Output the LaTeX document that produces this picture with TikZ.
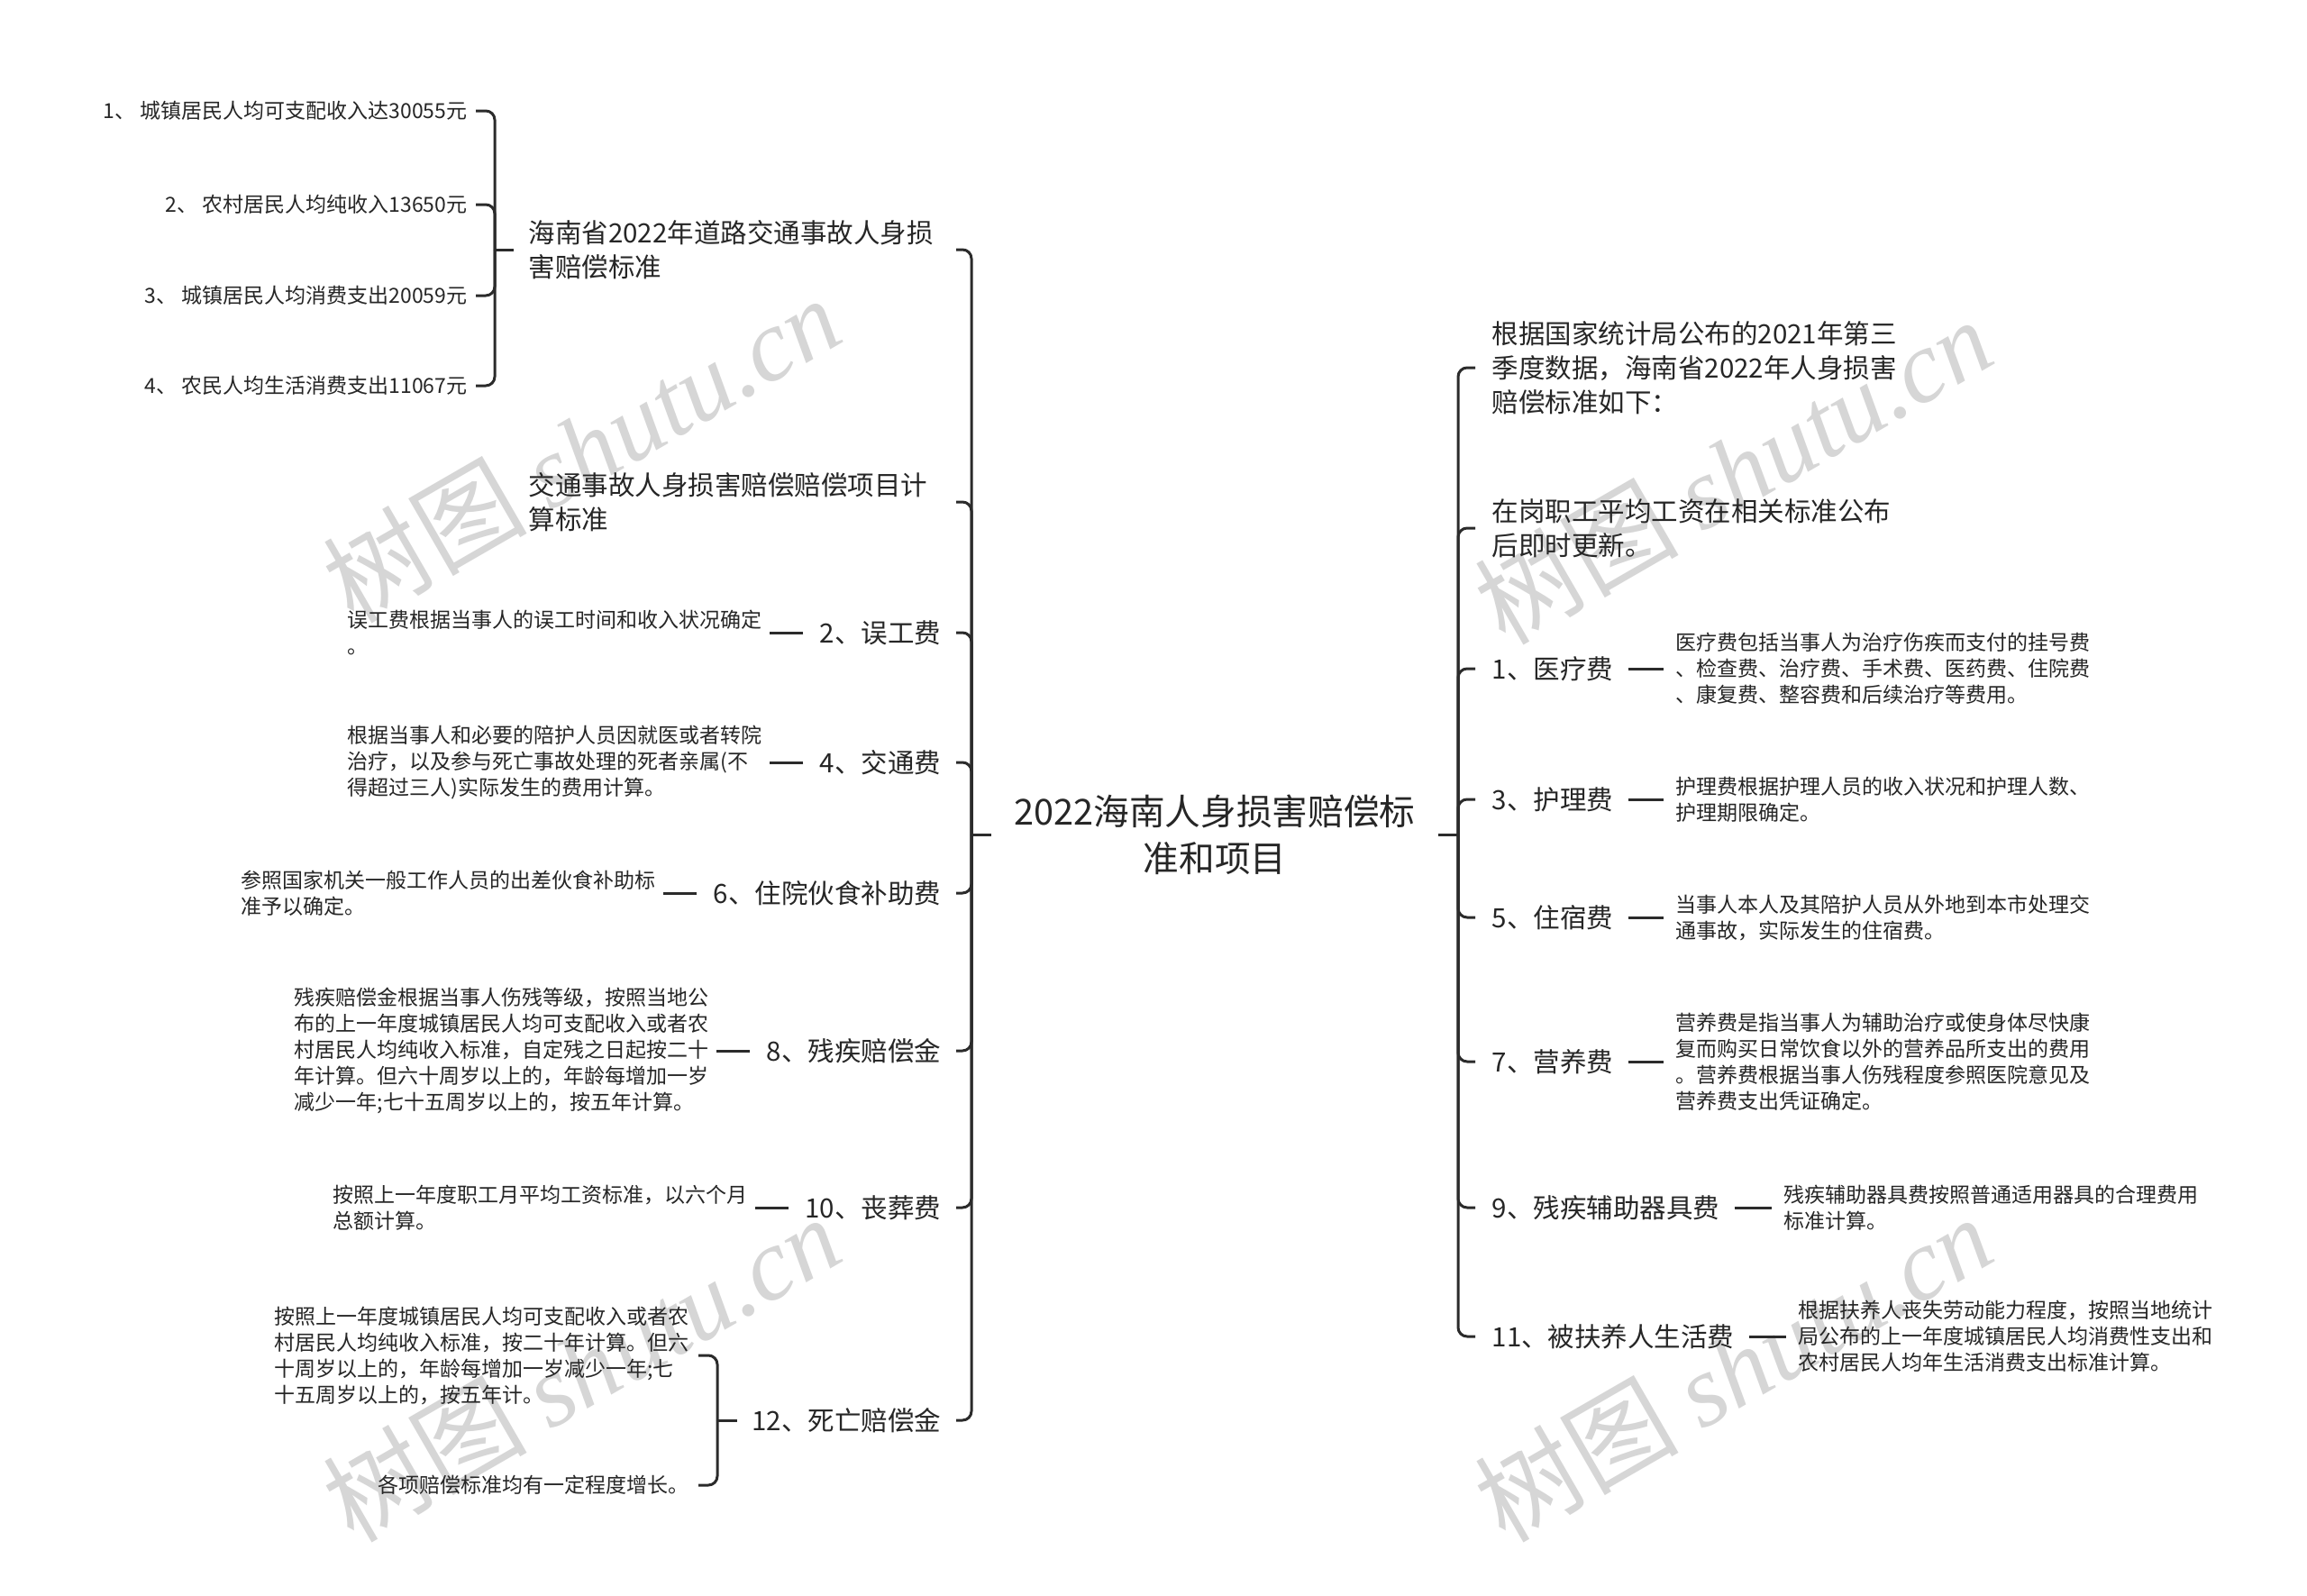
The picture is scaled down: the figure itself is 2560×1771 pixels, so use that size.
\documentclass[tikz,border=0pt]{standalone}
\usepackage{fontspec}
\setmainfont{Noto Sans CJK SC}
\newfontfamily\wmlat{Liberation Serif}
\usetikzlibrary{calc}
\definecolor{linec}{HTML}{2B2B2B}
\definecolor{txtc}{HTML}{262626}
\definecolor{wmc}{HTML}{D6D6D6}
\tikzset{
  conn/.style={draw=linec, line width=0.9pt},
  brace/.style={conn, rounded corners=3pt},
  lvl/.style={inner sep=0pt, text=txtc, font=\fontsize{8.85}{11.4}\selectfont, align=left},
  lvr/.style={lvl, align=right},
  leaf/.style={inner sep=0pt, text=txtc, font=\fontsize{6.9}{8.7}\selectfont, align=left},
  ctr/.style={inner sep=0pt, text=txtc, font=\fontsize{11.9}{15.6}\selectfont, align=center},
  wm/.style={text=wmc, rotate=30, inner sep=0pt, font=\fontsize{34}{34}\selectfont},
}
\begin{document}
\begin{tikzpicture}[x=0.3pt,y=-0.3pt]
\fill[white] (0,0) rectangle (2560,1771);
\useasboundingbox (0,0) rectangle (2560,1771);
% watermarks
\node[wm] (w1) at (645,498) {树图 {\wmlat\itshape shutu.cn}};
\node[wm] (w2) at (1923,522) {树图 {\wmlat\itshape shutu.cn}};
\node[wm] (w3) at (645,1518) {树图 {\wmlat\itshape shutu.cn}};
\node[wm] (w4) at (1923,1518) {树图 {\wmlat\itshape shutu.cn}};

% centre
\node[ctr] (C) at (1348,926) {2022海南人身损害赔偿标\\准和项目};
\coordinate (Lj) at (1078,926);
\coordinate (Rj) at (1618,926);
\coordinate (Le) at (1061,0);
\coordinate (Re) at (1637,0);
\draw[conn] (Lj) -- ($(Lj)+(22,0)$);
\draw[conn] (Rj) -- ($(Rj)+(-22,0)$);

% left level
\node[lvl, anchor=west] (L1) at (586,277) {海南省2022年道路交通事故人身损\\害赔偿标准};
\node[lvl, anchor=west] (L2) at (586,557) {交通事故人身损害赔偿赔偿项目计\\算标准};
\node[lvl, anchor=east] (L3) at (1045,702) {2、误工费};
\node[lvl, anchor=east] (L4) at (1045,846) {4、交通费};
\node[lvl, anchor=east] (L5) at (1045,991) {6、住院伙食补助费};
\node[lvl, anchor=east] (L6) at (1045,1166) {8、残疾赔偿金};
\node[lvl, anchor=east] (L7) at (1045,1340) {10、丧葬费};
\node[lvl, anchor=east] (L8) at (1045,1576) {12、死亡赔偿金};
\foreach \n in {L1,L2,L3,L4,L5,L6,L7,L8}
  \draw[brace] (Lj) |- (\n.east -| Le);

% left leaves
\node[leaf, anchor=east] (L3d) at ($(L3.west)+(-63,0)$) {误工费根据当事人的误工时间和收入状况确定\\。};
\node[leaf, anchor=east] (L4d) at ($(L4.west)+(-63,0)$) {根据当事人和必要的陪护人员因就医或者转院\\治疗，以及参与死亡事故处理的死者亲属(不\\得超过三人)实际发生的费用计算。};
\node[leaf, anchor=east] (L5d) at ($(L5.west)+(-63,0)$) {参照国家机关一般工作人员的出差伙食补助标\\准予以确定。};
\node[leaf, anchor=east] (L6d) at ($(L6.west)+(-63,0)$) {残疾赔偿金根据当事人伤残等级，按照当地公\\布的上一年度城镇居民人均可支配收入或者农\\村居民人均纯收入标准，自定残之日起按二十\\年计算。但六十周岁以上的，年龄每增加一岁\\减少一年;七十五周岁以上的，按五年计算。};
\node[leaf, anchor=east] (L7d) at ($(L7.west)+(-63,0)$) {按照上一年度职工月平均工资标准，以六个月\\总额计算。};
\foreach \n in {L3,L4,L5,L6,L7}
  \draw[conn] ($(\n.west)+(-18,0)$) -- ($(\n d.east)+(8,0)$);

% sub bracket of L1
\coordinate (J1) at (549,277);
\coordinate (J1e) at (528,0);
\draw[conn] (J1) -- ($(L1.west)+(-16,0)$);
\node[leaf, anchor=east] (S1) at (519,123) {1、 城镇居民人均可支配收入达30055元};
\node[leaf, anchor=east] (S2) at (519,227) {2、 农村居民人均纯收入13650元};
\node[leaf, anchor=east] (S3) at (519,328) {3、 城镇居民人均消费支出20059元};
\node[leaf, anchor=east] (S4) at (519,428) {4、 农民人均生活消费支出11067元};
\foreach \n in {S1,S2,S3,S4}
  \draw[brace] (J1) |- (\n.east -| J1e);

% sub bracket of L8
\coordinate (J8) at (796,1576);
\coordinate (J8e) at (775,0);
\draw[conn] (J8) -- ($(L8.west)+(-16,0)$);
\node[leaf, anchor=east] (L8a) at (765,1504) {按照上一年度城镇居民人均可支配收入或者农\\村居民人均纯收入标准，按二十年计算。但六\\十周岁以上的，年龄每增加一岁减少一年;七\\十五周岁以上的，按五年计。};
\node[leaf, anchor=east] (L8b) at (765,1648) {各项赔偿标准均有一定程度增长。};
\foreach \n in {L8a,L8b}
  \draw[brace] (J8) |- (\n.east -| J8e);

% right level
\node[lvl, anchor=west] (R1) at (1655,408) {根据国家统计局公布的2021年第三\\季度数据，海南省2022年人身损害\\赔偿标准如下：};
\node[lvl, anchor=west] (R2) at (1655,586) {在岗职工平均工资在相关标准公布\\后即时更新。};
\node[lvl, anchor=west] (R3) at (1655,742) {1、医疗费};
\node[lvl, anchor=west] (R4) at (1655,887) {3、护理费};
\node[lvl, anchor=west] (R5) at (1655,1018) {5、住宿费};
\node[lvl, anchor=west] (R6) at (1655,1178) {7、营养费};
\node[lvl, anchor=west] (R7) at (1655,1340) {9、残疾辅助器具费};
\node[lvl, anchor=west] (R8) at (1655,1483) {11、被扶养人生活费};
\foreach \n in {R1,R2,R3,R4,R5,R6,R7,R8}
  \draw[brace] (Rj) |- (\n.west -| Re);

% right leaves
\node[leaf, anchor=west] (R3d) at ($(R3.east)+(68,0)$) {医疗费包括当事人为治疗伤疾而支付的挂号费\\、检查费、治疗费、手术费、医药费、住院费\\、康复费、整容费和后续治疗等费用。};
\node[leaf, anchor=west] (R4d) at ($(R4.east)+(68,0)$) {护理费根据护理人员的收入状况和护理人数、\\护理期限确定。};
\node[leaf, anchor=west] (R5d) at ($(R5.east)+(68,0)$) {当事人本人及其陪护人员从外地到本市处理交\\通事故，实际发生的住宿费。};
\node[leaf, anchor=west] (R6d) at ($(R6.east)+(68,0)$) {营养费是指当事人为辅助治疗或使身体尽快康\\复而购买日常饮食以外的营养品所支出的费用\\。营养费根据当事人伤残程度参照医院意见及\\营养费支出凭证确定。};
\node[leaf, anchor=west] (R7d) at ($(R7.east)+(70,0)$) {残疾辅助器具费按照普通适用器具的合理费用\\标准计算。};
\node[leaf, anchor=west] (R8d) at ($(R8.east)+(70,0)$) {根据扶养人丧失劳动能力程度，按照当地统计\\局公布的上一年度城镇居民人均消费性支出和\\农村居民人均年生活消费支出标准计算。};
\foreach \n in {R3,R4,R5,R6,R7,R8}
  \draw[conn] ($(\n.east)+(16,0)$) -- ($(\n d.west)+(-13,0)$);
\end{tikzpicture}
\end{document}
